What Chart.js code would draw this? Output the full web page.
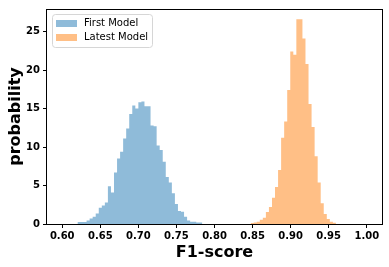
<!DOCTYPE html>
<html lang="en">
<head>
<meta charset="UTF-8">
<title>F1-score distribution</title>
<style>
  html, body { margin: 0; padding: 0; background: #fff; }
  #chart { display: block; }
</style>
</head>
<body>
<canvas id="chart" width="389" height="267"></canvas>
<script src="https://cdn.jsdelivr.net/npm/chart.js"></script>
<script>
// histogram bins (bin width 0.004)
const binWidth = 0.004;
const firstStart = 0.62;
const firstValues = [0.25, 0.25, 0.25, 0.45, 0.7, 0.95, 1.35, 2.1, 2.4, 2.8,
  4.9, 4.1, 6.7, 8.5, 9.4, 11.1, 12.4, 14.3, 15.4, 15.0,
  15.8, 15.9, 15.3, 15.3, 12.8, 12.7, 10.2, 9.6, 8.1, 6.1,
  5.4, 4.0, 2.6, 1.7, 1.6, 0.95, 0.45, 0.3, 0.3, 0.2, 0.2];
const latestStart = 0.8475;
const latestValues = [0.13, 0.2, 0.3, 0.55, 0.8, 1.55, 2.2, 3.4, 4.8, 7.0,
  11.2, 13.3, 17.4, 22.4, 22.0, 26.6, 26.6, 24.1, 20.8, 15.6,
  12.6, 8.8, 5.4, 2.7, 1.3, 0.65, 0.3, 0.15];
const seriesNames = ['First Model', 'Latest Model'];
const xTicks = [0.60, 0.65, 0.70, 0.75, 0.80, 0.85, 0.90, 0.95, 1.00];
const yTicks = [0, 5, 10, 15, 20, 25];

const FONT = 'DejaVu Sans';

// bin left edges + closing edge, for a stepped filled line
function toSteps(start, values) {
    const pts = values.map((v, i) => ({ x: start + i * binWidth, y: v }));
    pts.push({ x: start + values.length * binWidth, y: 0 });
    return pts;
}

const frame = {
    id: 'frame',
    afterDatasetsDraw(chart) {
        const { ctx, chartArea: a } = chart;
        ctx.save();
        ctx.strokeStyle = '#000';
        ctx.lineWidth = 1;
        ctx.strokeRect(Math.round(a.left) - 0.5, Math.round(a.top) + 0.5,
            Math.round(a.right - a.left) + 1, Math.round(a.bottom - a.top));
        ctx.restore();
    }
};

const legendBox = {
    id: 'legendBox',
    afterDraw(chart) {
        const { ctx, chartArea: a } = chart;
        const x = a.left + 5, y = a.top + 5;
        const w = 100, h = 33, r = 3;
        ctx.save();
        ctx.beginPath();
        ctx.roundRect(x + 0.5, y + 0.5, w, h, r);
        ctx.fillStyle = 'rgba(255,255,255,0.8)';
        ctx.fill();
        ctx.strokeStyle = '#d6d6d6';
        ctx.lineWidth = 1;
        ctx.stroke();
        ctx.font = '10px "' + FONT + '"';
        ctx.textBaseline = 'middle';
        chart.data.datasets.forEach((ds, i) => {
            const ry = y + 6 + i * 14;
            ctx.fillStyle = ds.backgroundColor;
            ctx.fillRect(x + 4, ry, 21, 7);
            ctx.fillStyle = '#000';
            ctx.fillText(ds.label, x + 32, ry + 3.5);
        });
        ctx.restore();
    }
};

new Chart(document.getElementById('chart'), {
    type: 'line',
    data: {
        datasets: [
            {
                label: seriesNames[0],
                data: toSteps(firstStart, firstValues),
                stepped: 'before',
                fill: 'origin',
                backgroundColor: 'rgba(31,119,180,0.5)',
                borderWidth: 0,
                pointRadius: 0
            },
            {
                label: seriesNames[1],
                data: toSteps(latestStart, latestValues),
                stepped: 'before',
                fill: 'origin',
                backgroundColor: 'rgba(255,127,14,0.5)',
                borderWidth: 0,
                pointRadius: 0
            }
        ]
    },
    options: {
        responsive: false,
        animation: false,
        layout: { padding: { top: 6, right: 7, left: 0, bottom: 0 } },
        plugins: {
            legend: { display: false },
            tooltip: { enabled: false }
        },
        scales: {
            x: {
                type: 'linear',
                min: 0.58,
                max: 1.02,
                border: { display: false },
                grid: { drawOnChartArea: false, color: '#000', tickLength: 4 },
                afterBuildTicks: s => { s.ticks = xTicks.map(v => ({ value: v })); },
                afterFit: s => { s.height = 43; },
                ticks: {
                    color: '#000',
                    padding: 2,
                    maxRotation: 0,
                    font: { family: FONT, size: 10, weight: 'bold' },
                    callback: v => v.toFixed(2)
                },
                title: {
                    display: true,
                    text: 'F1-score',
                    color: '#000',
                    padding: { top: 0, bottom: 5 },
                    font: { family: FONT, size: 16, weight: 'bold', lineHeight: 1.2 }
                }
            },
            y: {
                min: 0,
                max: 27.93,
                border: { display: false },
                grid: { drawOnChartArea: false, color: '#000', tickLength: 4 },
                afterBuildTicks: s => { s.ticks = yTicks.map(v => ({ value: v })); },
                afterFit: s => { s.width = 47; },
                ticks: {
                    color: '#000',
                    padding: 3,
                    font: { family: FONT, size: 10, weight: 'bold' },
                    callback: v => String(v)
                },
                title: {
                    display: true,
                    text: 'probability',
                    color: '#000',
                    padding: { top: 6, bottom: 0 },
                    font: { family: FONT, size: 16, weight: 'bold', lineHeight: 1.2 }
                }
            }
        }
    },
    plugins: [frame, legendBox]
});
</script>
</body>
</html>
